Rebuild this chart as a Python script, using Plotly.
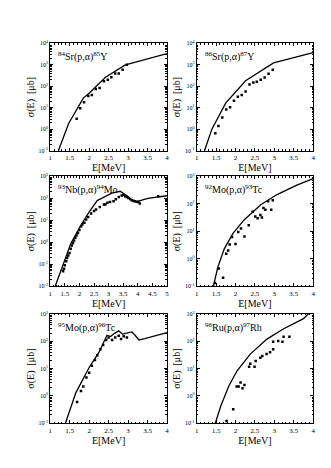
import plotly.graph_objects as go

# reaction labels
labels = ["<sup>84</sup>Sr(p,\u03b1)<sup>85</sup>Y", "<sup>86</sup>Sr(p,\u03b1)<sup>87</sup>Y",
          "<sup>93</sup>Nb(p,\u03b1)<sup>94</sup>Mo", "<sup>92</sup>Mo(p,\u03b1)<sup>93</sup>Tc",
          "<sup>95</sup>Mo(p,\u03b1)<sup>96</sup>Tc", "<sup>96</sup>Ru(p,\u03b1)<sup>97</sup>Rh"]

# theory curves (E in MeV, log10 sigma in ub)
sr84_curve_e = [1.21, 1.47, 1.85, 2.0, 2.42, 2.93, 3.1, 4.0]
sr84_curve_lg = [-1.0, 0.26, 1.45, 1.68, 2.42, 3.0, 3.08, 3.52]
sr86_curve_e = [1.2, 1.39, 1.75, 2.26, 2.98, 4.0]
sr86_curve_lg = [-1.0, 0.0, 1.23, 2.26, 3.09, 3.57]
nb93_curve_e = [1.17, 1.43, 1.71, 2.05, 2.33, 2.61, 2.83, 3.11, 3.4, 3.66, 3.85, 3.96, 4.35, 5.0]
nb93_curve_lg = [-2.0, -1.03, -0.05, 0.77, 1.37, 1.89, 2.04, 2.23, 2.31, 2.08, 1.84, 1.84, 1.99, 2.11]
mo92_curve_e = [1.43, 1.54, 1.71, 1.93, 2.22, 2.65, 3.07, 3.58, 4.0]
mo92_curve_lg = [-1.0, -0.32, 0.36, 0.91, 1.41, 1.96, 2.33, 2.67, 2.91]
mo95_curve_e = [1.39, 1.66, 2.0, 2.25, 2.46, 2.55, 2.66, 2.76, 2.86, 2.99, 3.1, 3.18, 3.28, 3.43, 4.0]
mo95_curve_lg = [-1.0, 0.12, 1.04, 1.59, 2.22, 2.17, 2.3, 2.38, 2.26, 2.3, 2.34, 2.22, 2.05, 2.1, 2.32]
ru96_curve_e = [1.48, 1.62, 1.83, 2.04, 2.38, 2.81, 3.23, 3.74, 3.88]
ru96_curve_lg = [-1.0, -0.37, 0.37, 0.92, 1.53, 2.08, 2.45, 2.82, 3.0]

# measured points
sr84_data_e = [1.68, 1.77, 1.87, 1.98, 2.07, 2.17, 2.27, 2.38, 2.48, 2.57, 2.67, 2.76, 2.86, 2.97]
sr84_data_lg = [0.49, 0.98, 1.26, 1.55, 1.6, 1.88, 1.92, 2.23, 2.3, 2.42, 2.6, 2.6, 2.77, 3.0]
sr86_data_e = [1.48, 1.56, 1.66, 1.76, 1.86, 1.96, 2.06, 2.16, 2.26, 2.36, 2.46, 2.55, 2.65, 2.75, 2.85, 2.96]
sr86_data_lg = [-0.18, 0.15, 0.55, 0.92, 1.03, 1.33, 1.51, 1.6, 1.76, 2.09, 2.18, 2.21, 2.3, 2.41, 2.58, 2.77]
nb93_data_e = [1.44, 1.47, 1.5, 1.55, 1.58, 1.62, 1.66, 1.7, 1.74, 1.78, 1.82, 1.86, 1.9, 1.95, 2.0, 2.06,
               2.1, 2.17, 2.23, 2.3, 2.4, 2.5, 2.57, 2.7, 2.84, 2.89, 2.96, 3.05, 3.17, 3.25, 3.35, 3.45,
               3.5, 3.57, 3.62, 3.68, 3.74, 3.79, 3.85, 3.9, 3.96, 4.02, 4.07, 4.7]
nb93_data_lg = [-1.32, -1.2, -1.05, -0.86, -0.72, -0.6, -0.49, -0.3, -0.15, -0.03, 0.08, 0.2, 0.3, 0.42, 0.55, 0.73,
                0.8, 0.88, 1.03, 1.15, 1.3, 1.42, 1.48, 1.6, 1.71, 1.71, 1.79, 1.82, 1.86, 1.95, 2.05, 2.12,
                2.14, 2.09, 2.05, 2.01, 1.96, 1.91, 1.88, 1.86, 1.84, 1.82, 1.76, 2.09]
mo92_data_e = [1.47, 1.57, 1.68, 1.76, 1.81, 1.85, 1.91, 2.0, 2.07, 2.14, 2.23, 2.34, 2.44, 2.51, 2.57,
               2.64, 2.68, 2.72, 2.77, 2.84, 2.92, 2.96]
mo92_data_lg = [-0.88, -0.35, -0.69, 0.18, 0.3, 0.52, 0.79, 0.54, 0.97, 1.1, 0.81, 1.22, 1.71, 1.53, 1.47,
                1.59, 1.5, 1.84, 1.78, 2.09, 1.78, 2.12]
mo95_data_e = [1.69, 1.79, 1.85, 1.93, 2.0, 2.07, 2.15, 2.21, 2.29, 2.36, 2.44, 2.5, 2.59, 2.67, 2.76, 2.82, 2.89, 2.97]
mo95_data_lg = [-0.22, 0.18, 0.34, 0.67, 0.85, 1.1, 1.31, 1.49, 1.71, 1.86, 2.05, 2.14, 2.05, 2.14, 2.2, 2.08, 2.18, 2.14]
ru96_data_e = [1.77, 1.94, 2.03, 2.08, 2.13, 2.18, 2.23, 2.35, 2.38, 2.49, 2.52, 2.64, 2.69, 2.8, 2.89, 2.97,
               2.97, 3.1, 3.21, 3.24, 3.39]
ru96_data_lg = [-0.92, -0.49, 0.34, 0.34, 0.49, 0.28, 0.4, 1.07, 1.18, 1.07, 1.28, 1.4, 1.46, 1.53, 1.6, 1.71,
                1.98, 2.01, 1.98, 2.17, 2.17]

curves = [(sr84_curve_e, sr84_curve_lg), (sr86_curve_e, sr86_curve_lg), (nb93_curve_e, nb93_curve_lg),
          (mo92_curve_e, mo92_curve_lg), (mo95_curve_e, mo95_curve_lg), (ru96_curve_e, ru96_curve_lg)]
points = [(sr84_data_e, sr84_data_lg), (sr86_data_e, sr86_data_lg), (nb93_data_e, nb93_data_lg),
          (mo92_data_e, mo92_data_lg), (mo95_data_e, mo95_data_lg), (ru96_data_e, ru96_data_lg)]
x_ranges = [[1, 4], [1, 4], [1, 5], [1, 4], [1, 4], [1, 4]]
y_ranges = [[-1, 4], [-1, 4], [-2, 3], [-1, 3], [-1, 3], [-1, 3]]

x_dom = [[0.123, 0.480], [0.571, 0.927]]
y_dom = [[0.699, 0.932], [0.405, 0.644], [0.108, 0.345]]

serif = "Liberation Serif"
fig = go.Figure()

for i in range(6):
    r, c = divmod(i, 2)
    n = "" if i == 0 else str(i + 1)
    xa, ya = "x" + n, "y" + n
    ce, cl = curves[i]
    pe, pl = points[i]
    fig.add_trace(go.Scatter(x=ce, y=[10 ** v for v in cl], mode="lines",
                             line=dict(color="black", width=1.3), xaxis=xa, yaxis=ya, showlegend=False))
    fig.add_trace(go.Scatter(x=pe, y=[10 ** v for v in pl], mode="markers",
                             marker=dict(color="black", size=2.5, symbol="square", line=dict(width=0)),
                             xaxis=xa, yaxis=ya, showlegend=False))

    x0, x1 = x_ranges[i]
    xt = [x0 + 0.5 * k for k in range(int((x1 - x0) * 2) + 1)]
    xtt = [("%g" % v) for v in xt]
    y0, y1 = y_ranges[i]
    yt = [10.0 ** k for k in range(y0, y1 + 1)]
    ytt = ["10<sup>%d</sup>" % k for k in range(y0, y1 + 1)]
    yminor = [m * 10.0 ** k for k in range(y0, y1) for m in range(2, 10)]

    axis_common = dict(showline=True, linecolor="black", linewidth=1, mirror="ticks", ticks="inside",
                       ticklen=3, tickcolor="black", showgrid=False, zeroline=False)
    fig.layout["xaxis" + n] = dict(axis_common, domain=x_dom[c], anchor=ya, range=[x0, x1],
                                   tickmode="array", tickvals=xt, ticktext=xtt,
                                   tickfont=dict(family=serif, size=7, color="black"),
                                   minor=dict(dtick=0.1, ticks="inside", ticklen=1.5, tickcolor="black"),
                                   title=dict(text="E[MeV]", font=dict(family=serif, size=10, color="black"),
                                              standoff=1))
    fig.layout["yaxis" + n] = dict(axis_common, domain=y_dom[r], anchor=xa, type="log",
                                   range=[y0, y1], tickmode="array", tickvals=yt, ticktext=ytt,
                                   tickfont=dict(family=serif, size=6, color="black"),
                                   minor=dict(tickmode="array", tickvals=yminor, ticks="inside",
                                              ticklen=1.5, tickcolor="black"),
                                   title=dict(text="\u03c3(E)  [\u03bcb]",
                                              font=dict(family=serif, size=10, color="black"), standoff=2))
    fig.add_annotation(text=labels[i], xref=xa + " domain", yref=ya + " domain", x=0.05, y=0.88,
                       xanchor="left", yanchor="middle", showarrow=False,
                       font=dict(family=serif, size=10, color="black"))

fig.update_layout(width=331, height=468, margin=dict(l=0, r=0, t=0, b=0),
                  paper_bgcolor="white", plot_bgcolor="white")
fig.write_html("out.html")
